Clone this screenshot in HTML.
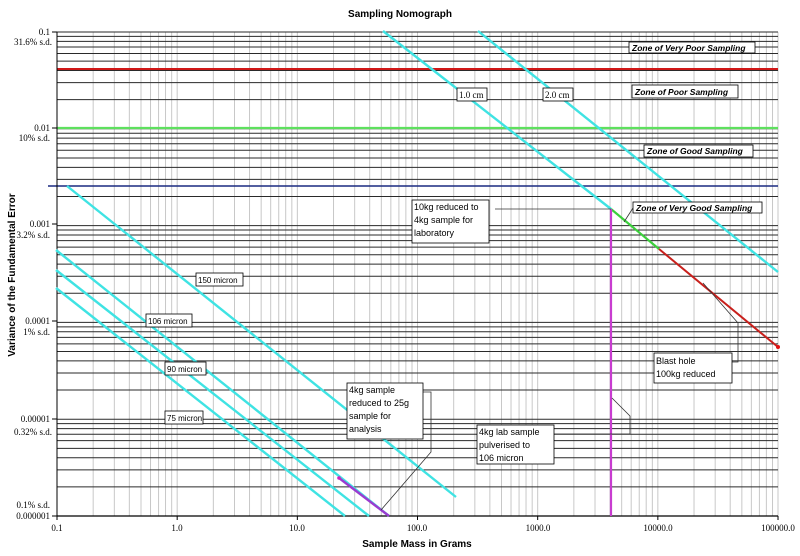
<!DOCTYPE html>
<html><head><meta charset="utf-8"><style>
html,body{margin:0;padding:0;background:#fff;width:800px;height:556px;overflow:hidden}
svg{display:block}
.lb{font-family:"Liberation Serif",serif;font-size:9px;fill:#000}
.bx{font-family:"Liberation Sans",sans-serif;font-size:9px;fill:#000}
.zn{font-family:"Liberation Sans",sans-serif;font-size:8.5px;font-weight:bold;font-style:italic;fill:#000}
</style></head><body>
<svg id="s" width="800" height="556" xmlns="http://www.w3.org/2000/svg">
<g id="grid"></g>
<text x="400" y="17" text-anchor="middle" font-family="Liberation Sans,sans-serif" font-size="10" font-weight="bold">Sampling Nomograph</text>
<text x="417" y="547" text-anchor="middle" font-family="Liberation Sans,sans-serif" font-size="10" font-weight="bold">Sample Mass in Grams</text>
<text transform="translate(15,275) rotate(-90)" text-anchor="middle" font-family="Liberation Sans,sans-serif" font-size="10" font-weight="bold">Variance of the Fundamental Error</text>
<g class="lb" text-anchor="end">
<text x="50" y="35">0.1</text><text x="52" y="45">31.6% s.d.</text>
<text x="50" y="131">0.01</text><text x="50" y="141">10% s.d.</text>
<text x="50" y="227">0.001</text><text x="50" y="238">3.2% s.d.</text>
<text x="50" y="324">0.0001</text><text x="50" y="335">1% s.d.</text>
<text x="50" y="422">0.00001</text><text x="52" y="435">0.32% s.d.</text>
<text x="50" y="508">0.1% s.d.</text><text x="50" y="519">0.000001</text>
</g>
<g class="lb" text-anchor="middle">
<text x="57" y="531">0.1</text><text x="177" y="531">1.0</text><text x="297" y="531">10.0</text>
<text x="417" y="531">100.0</text><text x="538" y="531">1000.0</text><text x="658" y="531">10000.0</text><text x="778" y="531">100000.0</text>
</g>
<g stroke="#3fe3e3" stroke-width="2.4" fill="none">
<line x1="383" y1="31" x2="611" y2="209"/>
<line x1="478" y1="31" x2="778" y2="272"/>
<line x1="67" y1="186" x2="456" y2="497"/>
<line x1="56" y1="250" x2="389" y2="516"/>
<line x1="56" y1="270" x2="369" y2="516"/>
<line x1="56" y1="288" x2="345" y2="516"/>
</g>
<line x1="611" y1="209" x2="659" y2="249" stroke="#3ccf3c" stroke-width="2.2"/>
<line x1="659" y1="249" x2="778" y2="347" stroke="#c8201c" stroke-width="2"/>
<circle cx="778" cy="347" r="2" fill="#e01010"/>
<line x1="611" y1="209" x2="611" y2="516" stroke="#c83cd0" stroke-width="2.2"/>
<line x1="339" y1="478" x2="389" y2="516" stroke="#9a3cd0" stroke-width="2.4"/>
<circle cx="339" cy="478" r="1.8" fill="#d020c0"/>
<g stroke="#333" stroke-width="0.8" fill="none">
<polyline points="495,209 611,209"/>
<polyline points="633,208 624,222"/>
<polyline points="703,283 738,323 738,362 732,362"/>
<polyline points="554,434 630,434 630,416 612,398"/>
<polyline points="423,392 431,392 431,452 381,510"/>
</g>
<g stroke="#000" stroke-width="0.8" fill="#fff">
<rect x="629" y="42" width="126" height="11"/>
<rect x="632" y="85" width="106" height="13"/>
<rect x="644" y="145" width="109" height="12"/>
<rect x="633" y="202" width="129" height="11"/>
<rect x="457" y="88" width="30" height="13"/>
<rect x="543" y="88" width="30" height="13"/>
<rect x="412" y="200" width="77" height="43"/>
<rect x="654" y="353" width="78" height="30"/>
<rect x="477" y="425" width="77" height="39"/>
<rect x="347" y="383" width="76" height="56"/>
<rect x="196" y="273" width="47" height="13"/>
<rect x="146" y="314" width="46" height="13"/>
<rect x="165" y="362" width="41" height="13"/>
<rect x="165" y="411" width="38" height="13"/>
</g>
<g class="zn">
<text x="632" y="51">Zone of Very Poor Sampling</text>
<text x="635" y="95">Zone of Poor Sampling</text>
<text x="647" y="154">Zone of Good Sampling</text>
<text x="636" y="211">Zone of Very Good Sampling</text>
</g>
<g class="lb"><text x="459" y="98">1.0 cm</text><text x="545" y="98">2.0 cm</text></g>
<g class="bx">
<text x="414" y="210">10kg reduced to</text><text x="414" y="223">4kg sample for</text><text x="414" y="236">laboratory</text>
<text x="656" y="364">Blast hole</text><text x="656" y="377">100kg reduced</text>
<text x="479" y="435">4kg lab sample</text><text x="479" y="448">pulverised to</text><text x="479" y="461">106 micron</text>
<text x="349" y="393">4kg sample</text><text x="349" y="406">reduced to 25g</text><text x="349" y="419">sample for</text><text x="349" y="432">analysis</text>
<text x="198" y="283" font-size="8">150 micron</text>
<text x="148" y="324" font-size="8">106 micron</text>
<text x="167" y="372" font-size="8">90 micron</text>
<text x="167" y="421" font-size="8">75 micron</text>
</g>
</svg>
<script>
var g=document.getElementById('grid'),NS='http://www.w3.org/2000/svg';
function L(x1,y1,x2,y2,c,w){var l=document.createElementNS(NS,'line');l.setAttribute('x1',x1);l.setAttribute('y1',y1);l.setAttribute('x2',x2);l.setAttribute('y2',y2);l.setAttribute('stroke',c);l.setAttribute('stroke-width',w);g.appendChild(l);}
var X0=57,DX=120.17,Y0=32,DY=96.8;
for(var d=0;d<6;d++)for(var k=1;k<=9;k++){var x=X0+DX*(d+Math.log10(k));L(x,32,x,516,'#c8c8c8',1);}
L(778,32,778,516,'#c8c8c8',1);
for(var d=0;d<5;d++)for(var k=1;k<=9;k++){var y=Y0+DY*(d+1-Math.log10(k));L(57,y,778,y,'#2a2a2a',1);}
L(57,32,778,32,'#2a2a2a',1);
L(57,69,778,69,'#d01818',2);
L(57,128,778,128,'#5ee05e',2.2);
L(48,186,778,186,'#1a2a80',1.5);
L(57,32,57,516,'#000',1);L(57,516,778,516,'#000',1.2);
[32,128,224,321,419,516].forEach(function(y){L(52,y,57,y,'#000',1);});
for(var d=0;d<=6;d++){var x=X0+DX*d;L(x,516,x,520,'#000',1);}
</script>
</body></html>
